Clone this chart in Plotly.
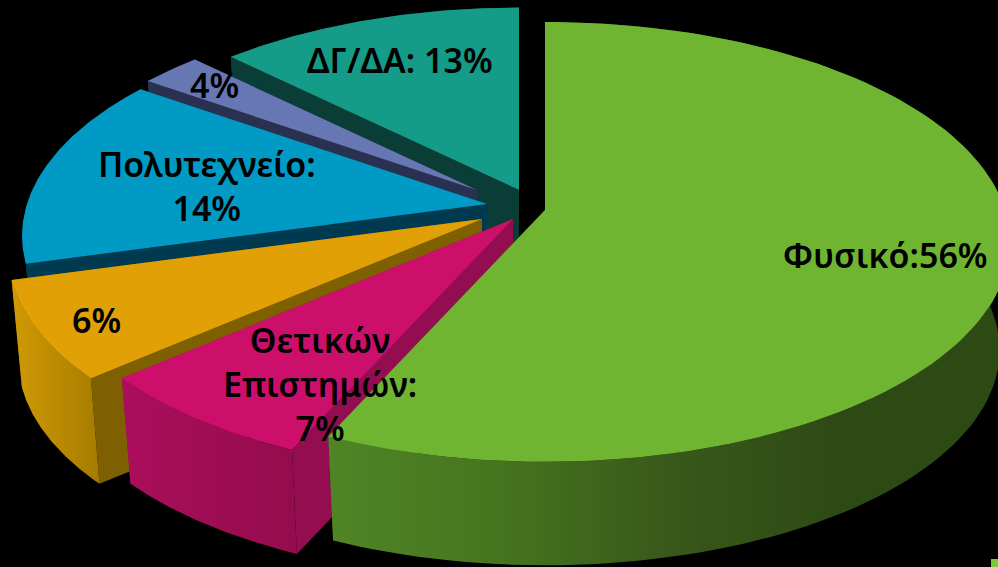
import numpy as np
import plotly.graph_objects as go

# Data
categories = ["Φυσικό", "Θετικών Επιστημών", "", "Πολυτεχνείο", "", "ΔΓ/ΔΑ"]
label_texts = ["Φυσικό:56%", "Θετικών<br>Επιστημών:<br>7%", "6%", "Πολυτεχνείο:<br>14%", "4%", "ΔΓ/ΔΑ: 13%"]
# Share of the circle each slice visibly occupies in the drawing
visible_shares = [56.7, 6.9, 7.1, 14.1, 2.6, 12.6]

# Styles
top_colors = ["#6fb532", "#cc0f6b", "#e0a006", "#009ac4", "#6677b3", "#159c88"]
wall_colors = ["#37581a", "#940d50", "#7f6000", "#003a50", "#2a3050", "#0a3d35"]
side_scales = [
    ["#508525", "#46741f", "#38591a", "#2d4a14", "#2d4a14"],
    ["#ab0e5c", "#930c4e"],
    ["#d09a04", "#a67c00"],
    ["#003a50", "#003a50"],
    ["#2a3050", "#2a3050"],
    ["#0a3d35", "#0a3d35"],
]
# Exploded hub and radius scale of each slice on the canvas
hub_x = [545, 513, 482, 487, 477, 519]
hub_y = [210, 219, 219, 204, 190, 190]
radius_scale = [1.0, 1.02, 1.02, 1.0, 0.95, 0.97]
label_x = [885, 320, 96, 207, 214, 400]
label_y = [255, 384, 320, 186, 85, 60]
RX, RY, K = 460.0, 215.3, 0.145
DEPTH, SHRINK = 109.0, 0.978


def rim(theta):
    u, v = np.sin(theta), -np.cos(theta)
    w = 1.0 / (1.0 - K * v)
    return RX * u * w, RY * v * w


fig = go.Figure()
edges = np.concatenate([[0], np.cumsum(visible_shares)]) / sum(visible_shares) * 2 * np.pi
order = [5, 4, 3, 2, 1, 0]  # back to front

for i in order:
    th = np.linspace(edges[i], edges[i + 1], 120)
    dx, dy = rim(th)
    dx, dy = dx * radius_scale[i], dy * radius_scale[i]
    hx, hy = hub_x[i], hub_y[i]
    tx, ty = hx + dx, hy + dy
    bx, by = hx + SHRINK * dx, hy + SHRINK * dy + DEPTH
    # radial walls
    for j in (0, -1):
        fig.add_trace(go.Scatter(
            x=[hx, tx[j], bx[j], hx], y=[hy, ty[j], by[j], hy + DEPTH],
            mode="lines", line=dict(width=0), fill="toself", fillcolor=wall_colors[i],
            hoverinfo="skip", showlegend=False))
    # outer side
    fig.add_trace(go.Scatter(
        x=np.concatenate([tx, bx[::-1]]), y=np.concatenate([ty, by[::-1]]),
        mode="lines", line=dict(width=0), fill="toself",
        fillgradient=dict(type="horizontal", colorscale=[
            [k / (len(side_scales[i]) - 1), c] for k, c in enumerate(side_scales[i])]),
        hoverinfo="skip", showlegend=False))
    # top surface
    fig.add_trace(go.Scatter(
        x=np.concatenate([[hx], tx, [hx]]), y=np.concatenate([[hy], ty, [hy]]),
        mode="lines", line=dict(width=0), fill="toself", fillcolor=top_colors[i],
        name=categories[i], hoverinfo="skip", showlegend=False))

for t, x, y in zip(label_texts, label_x, label_y):
    fig.add_annotation(x=x, y=y, text=t, showarrow=False, xanchor="center", yanchor="middle",
                       font=dict(family="Noto Sans", size=34, color="#000000", weight=600))

fig.add_shape(type="rect", x0=991, x1=998, y0=559, y1=567, fillcolor="#7fc53a", line_width=0)

fig.update_layout(
    width=998, height=567, margin=dict(l=0, r=0, t=0, b=0),
    paper_bgcolor="#000000", plot_bgcolor="#000000", showlegend=False,
    xaxis=dict(range=[0, 998], visible=False, fixedrange=True),
    yaxis=dict(range=[567, 0], visible=False, fixedrange=True),
)
fig.write_html(
    "out.html", config={"displayModeBar": False},
    post_script="document.body.style.margin='0';document.body.style.background='#000';"
                "document.documentElement.style.overflow='hidden';",
)
